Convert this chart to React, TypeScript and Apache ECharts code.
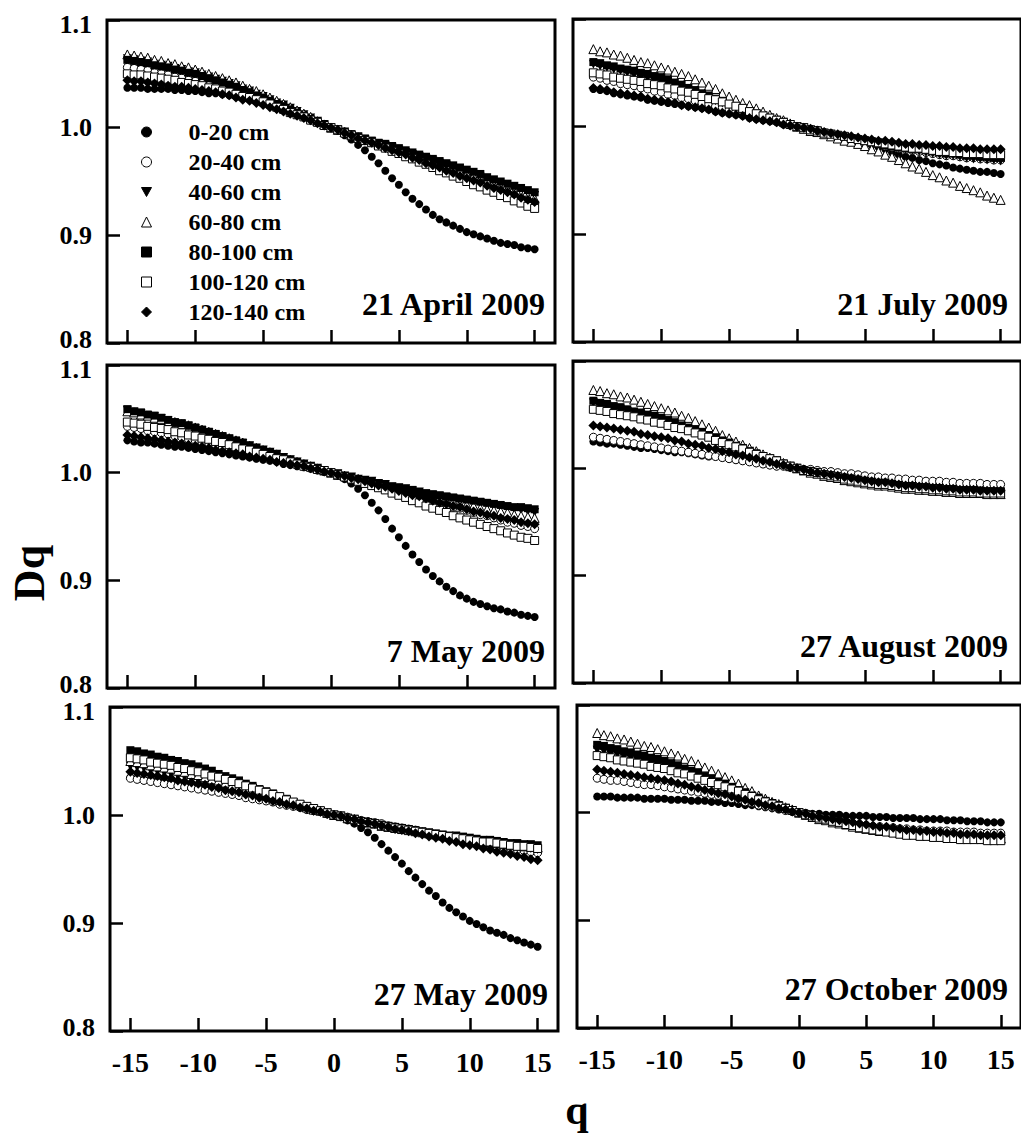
import React, { useEffect, useRef } from 'react';
import * as echarts from 'echarts';

const Q = [-15,-14.5,-14,-13.5,-13,-12.5,-12,-11.5,-11,-10.5,-10,-9.5,-9,-8.5,-8,-7.5,-7,-6.5,-6,-5.5,-5,-4.5,-4,-3.5,-3,-2.5,-2,-1.5,-1,-0.5,0,0.5,1,1.5,2,2.5,3,3.5,4,4.5,5,5.5,6,6.5,7,7.5,8,8.5,9,9.5,10,10.5,11,11.5,12,12.5,13,13.5,14,14.5,15];
const DEPTHS = ['0-20 cm','20-40 cm','40-60 cm','60-80 cm','80-100 cm','100-120 cm','120-140 cm'];
const DATES = ['21 April 2009','21 July 2009','7 May 2009','27 August 2009','27 May 2009','27 October 2009'];
const X_TICKS = [-15,-10,-5,0,5,10,15];

// ---- 21 April 2009 ----
const apr21_0_20 = [1.037,1.037,1.037,1.036,1.036,1.036, 1.036,1.035,1.035,1.034,1.034, 1.033,1.032,1.032,1.031,1.030, 1.029,1.027,1.026,1.024,1.023, 1.021,1.019,1.016,1.014,1.012, 1.010,1.007,1.005,1.002,1.000, 0.997,0.993,0.989,0.984,0.979, 0.973,0.967,0.960,0.953,0.947, 0.940,0.934,0.929,0.924,0.919, 0.915,0.912,0.909,0.906,0.903, 0.901,0.899,0.897,0.895,0.893, 0.892,0.891,0.889,0.888,0.887];
const apr21_20_40 = [1.056,1.055,1.054,1.053,1.051,1.050, 1.049,1.047,1.046,1.044,1.043, 1.041,1.039,1.038,1.036,1.034, 1.032,1.030,1.028,1.026,1.024, 1.022,1.019,1.017,1.014,1.012, 1.010,1.007,1.005,1.002,1.000, 0.998,0.996,0.993,0.991,0.989, 0.987,0.985,0.982,0.980,0.978, 0.976,0.973,0.971,0.968,0.966, 0.964,0.961,0.959,0.956,0.954, 0.951,0.949,0.946,0.944,0.941, 0.939,0.936,0.934,0.931,0.929];
const apr21_40_60 = [1.064,1.063,1.062,1.061,1.059,1.058, 1.057,1.055,1.054,1.052,1.051, 1.049,1.047,1.045,1.043,1.041, 1.039,1.036,1.034,1.031,1.029, 1.026,1.023,1.021,1.018,1.015, 1.012,1.009,1.006,1.003,1.000, 0.998,0.996,0.993,0.991,0.989, 0.987,0.985,0.983,0.981,0.979, 0.977,0.975,0.973,0.971,0.969, 0.967,0.965,0.962,0.960,0.958, 0.956,0.954,0.951,0.949,0.947, 0.945,0.943,0.941,0.939,0.937];
const apr21_60_80 = [1.068,1.067,1.066,1.065,1.063,1.062, 1.060,1.059,1.057,1.056,1.054, 1.052,1.050,1.048,1.046,1.044, 1.042,1.039,1.036,1.034,1.031, 1.028,1.025,1.022,1.019,1.016, 1.013,1.010,1.006,1.003,1.000, 0.998,0.996,0.993,0.991,0.989, 0.987,0.985,0.983,0.981,0.979, 0.977,0.975,0.972,0.970,0.968, 0.966,0.964,0.961,0.959,0.957, 0.955,0.952,0.950,0.947,0.945, 0.943,0.941,0.938,0.936,0.934];
const apr21_80_100 = [1.063,1.062,1.061,1.060,1.058,1.057, 1.056,1.054,1.053,1.051,1.050, 1.048,1.046,1.044,1.042,1.040, 1.038,1.035,1.033,1.030,1.028, 1.025,1.022,1.020,1.017,1.014, 1.011,1.008,1.006,1.003,1.000, 0.998,0.996,0.994,0.992,0.990, 0.988,0.986,0.985,0.983,0.981, 0.979,0.977,0.975,0.973,0.971, 0.969,0.967,0.965,0.963,0.961, 0.959,0.957,0.954,0.952,0.950, 0.948,0.946,0.944,0.942,0.940];
const apr21_100_120 = [1.050,1.049,1.049,1.048,1.047,1.046, 1.045,1.044,1.042,1.041,1.040, 1.039,1.037,1.036,1.034,1.033, 1.031,1.029,1.028,1.026,1.024, 1.022,1.019,1.017,1.014,1.012, 1.010,1.007,1.005,1.002,1.000, 0.998,0.995,0.993,0.990,0.988, 0.986,0.983,0.981,0.978,0.976, 0.973,0.971,0.968,0.966,0.963, 0.960,0.958,0.955,0.953,0.950, 0.947,0.945,0.942,0.940,0.937, 0.935,0.932,0.930,0.927,0.925];
const apr21_120_140 = [1.044,1.043,1.043,1.042,1.041,1.040, 1.039,1.038,1.038,1.037,1.036, 1.035,1.034,1.033,1.031,1.030, 1.028,1.026,1.025,1.023,1.021, 1.019,1.017,1.015,1.013,1.011, 1.009,1.007,1.004,1.002,1.000, 0.998,0.995,0.993,0.990,0.988, 0.986,0.984,0.981,0.979,0.977, 0.975,0.972,0.970,0.967,0.965, 0.963,0.960,0.958,0.955,0.953, 0.951,0.949,0.946,0.944,0.942, 0.940,0.938,0.935,0.933,0.931];

// ---- 21 July 2009 ----
const jul21_0_20 = [1.035,1.034,1.033,1.031,1.030,1.029, 1.028,1.027,1.025,1.024,1.023, 1.022,1.021,1.020,1.019,1.018, 1.017,1.016,1.014,1.013,1.012, 1.011,1.010,1.008,1.007,1.006, 1.005,1.004,1.002,1.001,1.000, 0.999,0.998,0.997,0.995,0.994, 0.992,0.991,0.989,0.987,0.985, 0.983,0.981,0.979,0.976,0.974, 0.972,0.971,0.969,0.968,0.966, 0.965,0.964,0.962,0.961,0.960, 0.959,0.958,0.958,0.957,0.956];
const jul21_20_40 = [1.046,1.045,1.043,1.042,1.040,1.039, 1.038,1.036,1.035,1.033,1.032, 1.030,1.029,1.027,1.026,1.024, 1.022,1.021,1.019,1.018,1.016, 1.014,1.013,1.011,1.010,1.008, 1.006,1.005,1.003,1.002,1.000, 0.999,0.997,0.996,0.994,0.993, 0.991,0.990,0.989,0.987,0.986, 0.985,0.984,0.982,0.981,0.980, 0.979,0.978,0.977,0.976,0.975, 0.974,0.973,0.973,0.972,0.971, 0.971,0.970,0.970,0.969,0.969];
const jul21_40_60 = [1.058,1.056,1.055,1.053,1.052,1.050, 1.048,1.046,1.045,1.043,1.041, 1.039,1.037,1.035,1.033,1.031, 1.029,1.027,1.024,1.022,1.020, 1.018,1.016,1.014,1.012,1.010, 1.008,1.006,1.004,1.002,1.000, 0.999,0.997,0.996,0.994,0.993, 0.991,0.990,0.989,0.987,0.986, 0.985,0.984,0.982,0.981,0.980, 0.979,0.978,0.977,0.976,0.975, 0.974,0.973,0.973,0.972,0.971, 0.970,0.970,0.969,0.969,0.968];
const jul21_60_80 = [1.072,1.070,1.069,1.067,1.066,1.064, 1.062,1.060,1.059,1.057,1.055, 1.053,1.051,1.049,1.047,1.044, 1.041,1.038,1.035,1.031,1.028, 1.025,1.022,1.020,1.017,1.014, 1.011,1.008,1.006,1.003,1.000, 0.998,0.996,0.995,0.993,0.991, 0.989,0.987,0.986,0.984,0.982, 0.979,0.977,0.974,0.972,0.969, 0.966,0.963,0.961,0.958,0.955, 0.953,0.950,0.948,0.945,0.943, 0.941,0.939,0.936,0.934,0.932];
const jul21_80_100 = [1.060,1.059,1.057,1.056,1.054,1.053, 1.052,1.050,1.049,1.047,1.046, 1.044,1.041,1.039,1.036,1.034, 1.031,1.029,1.026,1.024,1.021, 1.019,1.017,1.014,1.012,1.010, 1.008,1.006,1.004,1.002,1.000, 0.999,0.997,0.996,0.994,0.993, 0.992,0.991,0.989,0.988,0.987, 0.986,0.985,0.983,0.982,0.981, 0.980,0.979,0.979,0.978,0.977, 0.976,0.975,0.975,0.974,0.973, 0.973,0.972,0.972,0.971,0.971];
const jul21_100_120 = [1.050,1.049,1.048,1.046,1.045,1.044, 1.043,1.042,1.040,1.039,1.038, 1.036,1.035,1.033,1.032,1.030, 1.028,1.026,1.025,1.023,1.021, 1.019,1.017,1.014,1.012,1.010, 1.008,1.006,1.004,1.002,1.000, 0.999,0.997,0.996,0.994,0.993, 0.992,0.991,0.989,0.988,0.987, 0.986,0.985,0.984,0.983,0.982, 0.981,0.980,0.980,0.979,0.978, 0.977,0.977,0.976,0.976,0.975, 0.975,0.975,0.974,0.974,0.974];
const jul21_120_140 = [1.036,1.035,1.034,1.032,1.031,1.030, 1.029,1.028,1.026,1.025,1.024, 1.023,1.022,1.020,1.019,1.018, 1.017,1.016,1.014,1.013,1.012, 1.011,1.010,1.008,1.007,1.006, 1.005,1.004,1.002,1.001,1.000, 0.999,0.998,0.996,0.995,0.994, 0.993,0.992,0.991,0.990,0.989, 0.988,0.987,0.987,0.986,0.985, 0.984,0.984,0.983,0.983,0.982, 0.982,0.981,0.981,0.980,0.980, 0.980,0.979,0.979,0.979,0.979];

// ---- 7 May 2009 ----
const may07_0_20 = [1.030,1.029,1.028,1.028,1.027,1.026, 1.025,1.024,1.024,1.023,1.022, 1.021,1.020,1.019,1.018,1.017, 1.016,1.015,1.014,1.013,1.012, 1.011,1.010,1.008,1.007,1.006, 1.005,1.004,1.002,1.001,1.000, 0.997,0.994,0.990,0.985,0.979, 0.972,0.965,0.957,0.948,0.940, 0.932,0.924,0.917,0.910,0.904, 0.899,0.894,0.890,0.886,0.883, 0.880,0.878,0.876,0.874,0.873, 0.871,0.870,0.868,0.867,0.866];
const may07_20_40 = [1.043,1.042,1.041,1.039,1.038,1.037, 1.036,1.034,1.033,1.031,1.030, 1.028,1.027,1.025,1.024,1.022, 1.021,1.019,1.018,1.016,1.015, 1.013,1.012,1.010,1.009,1.007, 1.006,1.004,1.003,1.001,1.000, 0.998,0.996,0.995,0.993,0.991, 0.989,0.987,0.986,0.984,0.982, 0.980,0.978,0.977,0.975,0.973, 0.971,0.970,0.968,0.967,0.965, 0.963,0.961,0.960,0.958,0.956, 0.954,0.953,0.951,0.950,0.948];
const may07_40_60 = [1.058,1.056,1.055,1.053,1.052,1.050, 1.048,1.046,1.045,1.043,1.041, 1.039,1.037,1.035,1.033,1.031, 1.029,1.027,1.025,1.023,1.021, 1.019,1.017,1.014,1.012,1.010, 1.008,1.006,1.004,1.002,1.000, 0.999,0.997,0.996,0.994,0.993, 0.992,0.990,0.989,0.987,0.986, 0.985,0.983,0.982,0.980,0.979, 0.978,0.977,0.976,0.975,0.974, 0.973,0.972,0.970,0.969,0.968, 0.967,0.966,0.965,0.964,0.963];
const may07_60_80 = [1.057,1.056,1.054,1.053,1.051,1.050, 1.048,1.047,1.045,1.044,1.042, 1.040,1.038,1.036,1.034,1.032, 1.030,1.028,1.025,1.023,1.021, 1.019,1.017,1.014,1.012,1.010, 1.008,1.006,1.004,1.002,1.000, 0.998,0.997,0.995,0.994,0.992, 0.991,0.989,0.988,0.986,0.985, 0.983,0.982,0.980,0.979,0.977, 0.976,0.974,0.973,0.971,0.970, 0.969,0.967,0.966,0.965,0.964, 0.963,0.961,0.960,0.959,0.958];
const may07_80_100 = [1.059,1.057,1.056,1.054,1.053,1.051, 1.049,1.047,1.046,1.044,1.042, 1.040,1.038,1.036,1.034,1.032, 1.030,1.028,1.025,1.023,1.021, 1.019,1.017,1.014,1.012,1.010, 1.008,1.006,1.004,1.002,1.000, 0.999,0.997,0.996,0.994,0.993, 0.992,0.990,0.989,0.987,0.986, 0.985,0.984,0.982,0.981,0.980, 0.979,0.978,0.977,0.976,0.975, 0.974,0.973,0.972,0.971,0.970, 0.969,0.968,0.968,0.967,0.966];
const may07_100_120 = [1.047,1.046,1.045,1.043,1.042,1.041, 1.040,1.038,1.037,1.035,1.034, 1.032,1.031,1.029,1.028,1.026, 1.024,1.022,1.021,1.019,1.017, 1.015,1.013,1.012,1.010,1.008, 1.006,1.005,1.003,1.002,1.000, 0.998,0.996,0.994,0.992,0.990, 0.988,0.986,0.984,0.981,0.979, 0.977,0.974,0.972,0.969,0.967, 0.965,0.963,0.960,0.958,0.956, 0.954,0.952,0.950,0.948,0.946, 0.944,0.942,0.940,0.939,0.937];
const may07_120_140 = [1.035,1.034,1.033,1.032,1.031,1.030, 1.029,1.028,1.027,1.026,1.025, 1.024,1.023,1.021,1.020,1.019, 1.018,1.017,1.015,1.014,1.013, 1.012,1.010,1.009,1.008,1.007, 1.006,1.004,1.003,1.001,1.000, 0.998,0.997,0.995,0.994,0.992, 0.990,0.988,0.987,0.985,0.983, 0.981,0.979,0.978,0.976,0.974, 0.972,0.971,0.969,0.968,0.966, 0.964,0.963,0.961,0.960,0.958, 0.957,0.956,0.954,0.953,0.952];

// ---- 27 August 2009 ----
const aug27_0_20 = [1.025,1.024,1.023,1.023,1.022,1.021, 1.020,1.019,1.019,1.018,1.017, 1.016,1.015,1.015,1.014,1.013, 1.012,1.011,1.011,1.010,1.009, 1.008,1.007,1.006,1.005,1.004, 1.003,1.002,1.002,1.001,1.000, 0.999,0.998,0.998,0.997,0.996, 0.995,0.994,0.994,0.993,0.992, 0.991,0.990,0.990,0.989,0.988, 0.987,0.987,0.986,0.986,0.985, 0.985,0.984,0.984,0.983,0.983, 0.983,0.982,0.982,0.981,0.981];
const aug27_20_40 = [1.029,1.028,1.027,1.026,1.025,1.024, 1.023,1.022,1.021,1.020,1.019, 1.018,1.017,1.016,1.015,1.014, 1.013,1.012,1.011,1.010,1.009, 1.008,1.007,1.006,1.005,1.004, 1.003,1.002,1.002,1.001,1.000, 0.999,0.999,0.998,0.997,0.997, 0.996,0.995,0.995,0.994,0.993, 0.992,0.992,0.991,0.991,0.990, 0.990,0.989,0.989,0.988,0.988, 0.988,0.987,0.987,0.986,0.986, 0.986,0.986,0.985,0.985,0.985];
const aug27_40_60 = [1.061,1.059,1.058,1.056,1.055,1.053, 1.051,1.050,1.048,1.047,1.045, 1.043,1.041,1.039,1.037,1.035, 1.033,1.030,1.028,1.025,1.023, 1.021,1.018,1.016,1.013,1.011, 1.009,1.007,1.004,1.002,1.000, 0.998,0.997,0.996,0.994,0.993, 0.992,0.991,0.990,0.989,0.988, 0.987,0.986,0.986,0.985,0.984, 0.983,0.983,0.982,0.982,0.981, 0.981,0.980,0.980,0.979,0.979, 0.979,0.978,0.978,0.978,0.978];
const aug27_60_80 = [1.073,1.072,1.070,1.069,1.067,1.066, 1.064,1.062,1.060,1.058,1.056, 1.054,1.052,1.049,1.047,1.044, 1.041,1.038,1.035,1.031,1.028, 1.025,1.022,1.019,1.016,1.013, 1.010,1.007,1.005,1.002,1.000, 0.998,0.996,0.995,0.993,0.992, 0.991,0.989,0.988,0.987,0.986, 0.985,0.984,0.984,0.983,0.982, 0.981,0.981,0.980,0.980,0.979, 0.979,0.978,0.978,0.977,0.977, 0.977,0.977,0.976,0.976,0.976];
const aug27_80_100 = [1.063,1.061,1.060,1.058,1.057,1.055, 1.053,1.052,1.050,1.049,1.047, 1.045,1.043,1.040,1.038,1.036, 1.034,1.031,1.029,1.026,1.024, 1.021,1.019,1.016,1.014,1.011, 1.009,1.007,1.004,1.002,1.000, 0.998,0.997,0.996,0.994,0.993, 0.992,0.991,0.990,0.989,0.988, 0.987,0.986,0.986,0.985,0.984, 0.983,0.983,0.982,0.982,0.981, 0.981,0.980,0.980,0.979,0.979, 0.979,0.978,0.978,0.978,0.978];
const aug27_100_120 = [1.055,1.054,1.053,1.051,1.050,1.049, 1.048,1.046,1.045,1.043,1.042, 1.040,1.038,1.037,1.035,1.033, 1.031,1.029,1.026,1.024,1.022, 1.020,1.018,1.015,1.013,1.011, 1.009,1.007,1.004,1.002,1.000, 0.998,0.997,0.996,0.994,0.993, 0.992,0.990,0.989,0.988,0.987, 0.986,0.985,0.985,0.984,0.983, 0.982,0.982,0.981,0.981,0.980, 0.980,0.979,0.979,0.978,0.978, 0.978,0.977,0.977,0.977,0.977];
const aug27_120_140 = [1.040,1.039,1.038,1.037,1.036,1.035, 1.034,1.032,1.031,1.030,1.029, 1.028,1.026,1.025,1.023,1.022, 1.021,1.019,1.018,1.016,1.015, 1.013,1.012,1.010,1.009,1.007, 1.006,1.004,1.003,1.001,1.000, 0.999,0.997,0.996,0.995,0.994, 0.993,0.992,0.991,0.990,0.989, 0.988,0.987,0.987,0.986,0.985, 0.984,0.984,0.983,0.983,0.982, 0.982,0.981,0.981,0.980,0.980, 0.980,0.979,0.979,0.979,0.979];

// ---- 27 May 2009 ----
const may27_0_20 = [1.035,1.034,1.033,1.033,1.032,1.031, 1.030,1.029,1.028,1.027,1.026, 1.025,1.024,1.023,1.021,1.020, 1.019,1.017,1.016,1.014,1.013, 1.012,1.010,1.009,1.008,1.007, 1.005,1.004,1.003,1.001,1.000, 0.998,0.995,0.992,0.988,0.984, 0.979,0.973,0.967,0.961,0.955, 0.948,0.942,0.936,0.930,0.925, 0.919,0.914,0.910,0.906,0.902, 0.899,0.896,0.893,0.891,0.889, 0.886,0.884,0.882,0.880,0.878];
const may27_20_40 = [1.034,1.033,1.032,1.031,1.030,1.029, 1.028,1.027,1.026,1.025,1.024, 1.023,1.022,1.021,1.020,1.019, 1.018,1.016,1.015,1.014,1.013, 1.012,1.010,1.009,1.008,1.007, 1.005,1.004,1.003,1.001,1.000, 0.999,0.998,0.996,0.995,0.994, 0.993,0.992,0.990,0.989,0.988, 0.987,0.986,0.984,0.983,0.982, 0.981,0.980,0.978,0.977,0.976, 0.975,0.974,0.972,0.971,0.970, 0.969,0.968,0.967,0.966,0.965];
const may27_40_60 = [1.045,1.044,1.043,1.041,1.040,1.039, 1.038,1.036,1.035,1.033,1.032, 1.030,1.029,1.027,1.026,1.024, 1.022,1.021,1.019,1.018,1.016, 1.014,1.013,1.011,1.010,1.008, 1.006,1.005,1.003,1.002,1.000, 0.999,0.997,0.996,0.994,0.993, 0.992,0.990,0.989,0.988,0.987, 0.986,0.984,0.983,0.982,0.981, 0.980,0.979,0.978,0.977,0.976, 0.975,0.974,0.974,0.973,0.972, 0.971,0.970,0.970,0.969,0.968];
const may27_60_80 = [1.050,1.049,1.048,1.046,1.045,1.044, 1.043,1.041,1.040,1.038,1.037, 1.035,1.033,1.032,1.030,1.028, 1.026,1.024,1.022,1.020,1.018, 1.016,1.014,1.013,1.011,1.009, 1.007,1.005,1.004,1.002,1.000, 0.999,0.997,0.996,0.994,0.993, 0.992,0.990,0.989,0.988,0.987, 0.986,0.985,0.984,0.983,0.982, 0.981,0.980,0.979,0.978,0.977, 0.976,0.975,0.975,0.974,0.973, 0.972,0.972,0.971,0.971,0.970];
const may27_80_100 = [1.060,1.059,1.057,1.056,1.054,1.053, 1.051,1.050,1.048,1.047,1.045, 1.043,1.041,1.038,1.036,1.034, 1.032,1.029,1.027,1.024,1.022, 1.020,1.017,1.015,1.012,1.010, 1.008,1.006,1.004,1.002,1.000, 0.999,0.997,0.996,0.994,0.993, 0.992,0.991,0.990,0.989,0.988, 0.987,0.986,0.985,0.984,0.983, 0.982,0.981,0.981,0.980,0.979, 0.978,0.977,0.977,0.976,0.975, 0.974,0.974,0.973,0.973,0.972];
const may27_100_120 = [1.053,1.052,1.051,1.049,1.048,1.047, 1.046,1.044,1.043,1.041,1.040, 1.038,1.036,1.035,1.033,1.031, 1.029,1.027,1.025,1.023,1.021, 1.019,1.017,1.014,1.012,1.010, 1.008,1.006,1.004,1.002,1.000, 0.999,0.997,0.996,0.994,0.993, 0.992,0.990,0.989,0.988,0.987, 0.986,0.985,0.984,0.983,0.982, 0.981,0.980,0.979,0.978,0.977, 0.976,0.975,0.975,0.974,0.973, 0.972,0.971,0.971,0.970,0.969];
const may27_120_140 = [1.040,1.039,1.038,1.037,1.036,1.035, 1.034,1.032,1.031,1.030,1.029, 1.028,1.026,1.025,1.023,1.022, 1.021,1.019,1.018,1.016,1.015, 1.013,1.012,1.010,1.009,1.007, 1.006,1.004,1.003,1.001,1.000, 0.999,0.997,0.996,0.994,0.993, 0.992,0.990,0.989,0.987,0.986, 0.985,0.983,0.982,0.980,0.979, 0.978,0.976,0.975,0.973,0.972, 0.971,0.969,0.968,0.966,0.965, 0.964,0.962,0.961,0.959,0.958];

// ---- 27 October 2009 ----
const oct27_0_20 = [1.015,1.015,1.015,1.014,1.014,1.014, 1.014,1.013,1.013,1.013,1.013, 1.012,1.012,1.012,1.011,1.011, 1.011,1.010,1.010,1.009,1.009, 1.008,1.007,1.007,1.006,1.005, 1.004,1.003,1.002,1.001,1.000, 1.000,0.999,0.999,0.998,0.998, 0.998,0.997,0.997,0.997,0.997, 0.996,0.996,0.996,0.995,0.995, 0.995,0.995,0.994,0.994,0.994, 0.994,0.993,0.993,0.993,0.992, 0.992,0.992,0.991,0.991,0.991];
const oct27_20_40 = [1.032,1.031,1.030,1.030,1.029,1.028, 1.027,1.026,1.026,1.025,1.024, 1.023,1.022,1.021,1.020,1.019, 1.018,1.017,1.016,1.014,1.013, 1.012,1.010,1.009,1.007,1.006, 1.005,1.004,1.002,1.001,1.000, 0.998,0.997,0.996,0.994,0.993, 0.992,0.991,0.990,0.989,0.988, 0.987,0.987,0.986,0.986,0.985, 0.985,0.984,0.984,0.983,0.983, 0.983,0.983,0.982,0.982,0.982, 0.982,0.981,0.981,0.981,0.981];
const oct27_40_60 = [1.058,1.057,1.055,1.054,1.052,1.051, 1.049,1.048,1.046,1.045,1.043, 1.041,1.039,1.037,1.035,1.033, 1.031,1.029,1.026,1.024,1.022, 1.020,1.017,1.015,1.012,1.010, 1.008,1.006,1.004,1.002,1.000, 0.998,0.997,0.995,0.994,0.992, 0.991,0.990,0.988,0.987,0.986, 0.985,0.984,0.984,0.983,0.982, 0.981,0.981,0.980,0.980,0.979, 0.979,0.978,0.978,0.977,0.977, 0.977,0.977,0.976,0.976,0.976];
const oct27_60_80 = [1.074,1.072,1.071,1.069,1.068,1.066, 1.064,1.062,1.061,1.059,1.057, 1.055,1.053,1.050,1.048,1.045, 1.042,1.039,1.036,1.033,1.030, 1.027,1.023,1.020,1.016,1.013, 1.010,1.008,1.005,1.003,1.000, 0.998,0.996,0.994,0.993,0.991, 0.990,0.989,0.987,0.986,0.985, 0.984,0.983,0.983,0.982,0.981, 0.980,0.980,0.979,0.979,0.978, 0.978,0.978,0.977,0.977,0.977, 0.977,0.976,0.976,0.976,0.976];
const oct27_80_100 = [1.063,1.062,1.060,1.059,1.057,1.056, 1.054,1.053,1.051,1.050,1.048, 1.046,1.044,1.041,1.039,1.037, 1.034,1.032,1.029,1.027,1.024, 1.021,1.019,1.016,1.014,1.011, 1.009,1.007,1.004,1.002,1.000, 0.998,0.997,0.995,0.994,0.992, 0.991,0.990,0.988,0.987,0.986, 0.985,0.984,0.984,0.983,0.982, 0.981,0.981,0.980,0.980,0.979, 0.979,0.978,0.978,0.977,0.977, 0.977,0.977,0.976,0.976,0.976];
const oct27_100_120 = [1.053,1.052,1.051,1.049,1.048,1.047, 1.046,1.045,1.043,1.042,1.041, 1.039,1.037,1.036,1.034,1.032, 1.030,1.028,1.026,1.024,1.022, 1.020,1.017,1.015,1.012,1.010, 1.008,1.006,1.004,1.002,1.000, 0.998,0.997,0.995,0.994,0.992, 0.991,0.989,0.988,0.986,0.985, 0.984,0.983,0.982,0.981,0.980, 0.979,0.979,0.978,0.978,0.977, 0.977,0.976,0.976,0.975,0.975, 0.975,0.975,0.974,0.974,0.974];
const oct27_120_140 = [1.040,1.039,1.038,1.037,1.036,1.035, 1.034,1.033,1.032,1.031,1.030, 1.029,1.027,1.026,1.024,1.023, 1.021,1.020,1.018,1.017,1.015, 1.013,1.012,1.010,1.009,1.007, 1.006,1.004,1.003,1.001,1.000, 0.999,0.997,0.996,0.995,0.994, 0.993,0.992,0.991,0.990,0.989, 0.988,0.987,0.987,0.986,0.985, 0.984,0.984,0.983,0.983,0.982, 0.982,0.981,0.981,0.980,0.980, 0.980,0.979,0.979,0.979,0.979];

const PANEL_DATA = [
  [apr21_0_20, apr21_20_40, apr21_40_60, apr21_60_80, apr21_80_100, apr21_100_120, apr21_120_140],
  [jul21_0_20, jul21_20_40, jul21_40_60, jul21_60_80, jul21_80_100, jul21_100_120, jul21_120_140],
  [may07_0_20, may07_20_40, may07_40_60, may07_60_80, may07_80_100, may07_100_120, may07_120_140],
  [aug27_0_20, aug27_20_40, aug27_40_60, aug27_60_80, aug27_80_100, aug27_100_120, aug27_120_140],
  [may27_0_20, may27_20_40, may27_40_60, may27_60_80, may27_80_100, may27_100_120, may27_120_140],
  [oct27_0_20, oct27_20_40, oct27_40_60, oct27_60_80, oct27_80_100, oct27_100_120, oct27_120_140],
];

const FONT = '"Liberation Serif", "Times New Roman", serif';

const DOWN_TRIANGLE = 'path://M0,0L10,0L5,9Z';

const MARKERS = [
  { symbol: 'circle', legendIcon: 'circle', size: 8, fill: '#000', bw: 0, rotate: 0 },
  { symbol: 'circle', legendIcon: 'circle', size: 8, fill: '#fff', bw: 1, rotate: 0 },
  { symbol: 'triangle', legendIcon: DOWN_TRIANGLE, size: 9, fill: '#000', bw: 0, rotate: 180 },
  { symbol: 'triangle', legendIcon: 'triangle', size: 9, fill: '#fff', bw: 1, rotate: 0 },
  { symbol: 'rect', legendIcon: 'rect', size: 8, fill: '#000', bw: 0, rotate: 0 },
  { symbol: 'rect', legendIcon: 'rect', size: 8, fill: '#fff', bw: 1, rotate: 0 },
  { symbol: 'diamond', legendIcon: 'diamond', size: 10, fill: '#000', bw: 0, rotate: 0 },
];

const GRIDS = [
  { left: 107, top: 20, width: 448, height: 323 },
  { left: 573, top: 19, width: 448, height: 323 },
  { left: 107, top: 365, width: 448, height: 323 },
  { left: 573, top: 361, width: 448, height: 322 },
  { left: 110, top: 707, width: 448, height: 324 },
  { left: 577, top: 705, width: 448, height: 323 },
];

const TITLE_POS = [
  [545, 304], [1008, 304], [545, 651], [1008, 646], [548, 994], [1008, 989],
];

const Y_LABEL_STYLE = { fontFamily: FONT, fontWeight: 'bold', fontSize: 26, color: '#000' };

export default function App() {
  const ref = useRef<HTMLDivElement>(null);
  useEffect(() => {
    if (!ref.current) return;
    const chart = echarts.init(ref.current, null, { renderer: 'svg' });
    const grid: any[] = [];
    const xAxis: any[] = [];
    const yAxis: any[] = [];
    const series: any[] = [];
    const graphic: any[] = [];
    GRIDS.forEach((g, i) => {
      const isLeft = i % 2 === 0;
      const isBottom = i >= 4;
      grid.push({ ...g, show: true, borderColor: '#000', borderWidth: 3, backgroundColor: 'transparent', containLabel: false });
      xAxis.push({
        type: 'value', gridIndex: i, min: -16.5, max: 16.5, position: 'bottom',
        axisLine: { show: false, onZero: false },
        splitLine: { show: false },
        axisTick: { show: true, inside: true, length: 13, customValues: X_TICKS, lineStyle: { color: '#000', width: 2.5 } },
        axisLabel: { show: isBottom, customValues: X_TICKS, margin: 17, color: '#000', fontFamily: FONT, fontWeight: 'bold', fontSize: 28 },
      });
      yAxis.push({
        type: 'value', gridIndex: i, min: 0.8, max: 1.1, interval: 0.1, position: 'left',
        axisLine: { show: false, onZero: false },
        splitLine: { show: false },
        axisTick: { show: true, inside: true, length: 13, lineStyle: { color: '#000', width: 2.5 } },
        axisLabel: {
          show: isLeft, margin: 15, ...Y_LABEL_STYLE,
          formatter: (v: number) => {
            const s = v.toFixed(1);
            if (Math.abs(v - 1.1) < 1e-6) return '{hi|' + s + '}';
            if (Math.abs(v - 0.8) < 1e-6) return '{lo|' + s + '}';
            return '{n|' + s + '}';
          },
          rich: {
            n: { ...Y_LABEL_STYLE },
            hi: { ...Y_LABEL_STYLE, padding: [8, 0, 0, 0] },
            lo: { ...Y_LABEL_STYLE, padding: [0, 0, 8, 0] },
          },
        },
      });
      PANEL_DATA[i].forEach((vals, k) => {
        const m = MARKERS[k];
        series.push({
          type: 'scatter', name: DEPTHS[k], xAxisIndex: i, yAxisIndex: i,
          symbol: m.symbol, symbolSize: m.size, symbolRotate: m.rotate,
          itemStyle: { color: m.fill, borderColor: '#000', borderWidth: m.bw, opacity: 1 },
          emphasis: { disabled: true },
          silent: true,
          data: Q.map((q, j) => [q, vals[j]]),
        });
      });
      graphic.push({
        type: 'text', x: TITLE_POS[i][0], y: TITLE_POS[i][1],
        style: { text: DATES[i], fill: '#000', fontFamily: FONT, fontWeight: 'bold', fontSize: 32, textAlign: 'right', textVerticalAlign: 'middle' },
      });
    });
    graphic.push({
      type: 'text', x: 29, y: 573, rotation: Math.PI / 2,
      style: { text: 'Dq', fill: '#000', fontFamily: FONT, fontWeight: 'bold', fontSize: 44, textAlign: 'center', textVerticalAlign: 'middle' },
    });
    graphic.push({
      type: 'text', x: 577, y: 1110,
      style: { text: 'q', fill: '#000', fontFamily: FONT, fontWeight: 'bold', fontSize: 42, textAlign: 'center', textVerticalAlign: 'middle' },
    });
    chart.setOption({
      animation: false,
      backgroundColor: '#fff',
      grid, xAxis, yAxis, series, graphic,
      legend: {
        data: DEPTHS.map((name, k) => ({ name, icon: MARKERS[k].legendIcon })),
        orient: 'vertical', left: 136, top: 115,
        itemWidth: 10, itemHeight: 10, itemGap: 6, selectedMode: false,
        symbolRotate: 0,
        itemStyle: { borderWidth: 1 },
        formatter: (name: string) => '{p|}' + name,
        textStyle: { fontFamily: FONT, fontWeight: 'bold', fontSize: 24, color: '#000', lineHeight: 24, rich: { p: { width: 32 } } },
      },
    });
    return () => chart.dispose();
  }, []);
  return <div ref={ref} style={{ position: 'absolute', left: 0, top: 0, width: 1021, height: 1140 }} />;
}
